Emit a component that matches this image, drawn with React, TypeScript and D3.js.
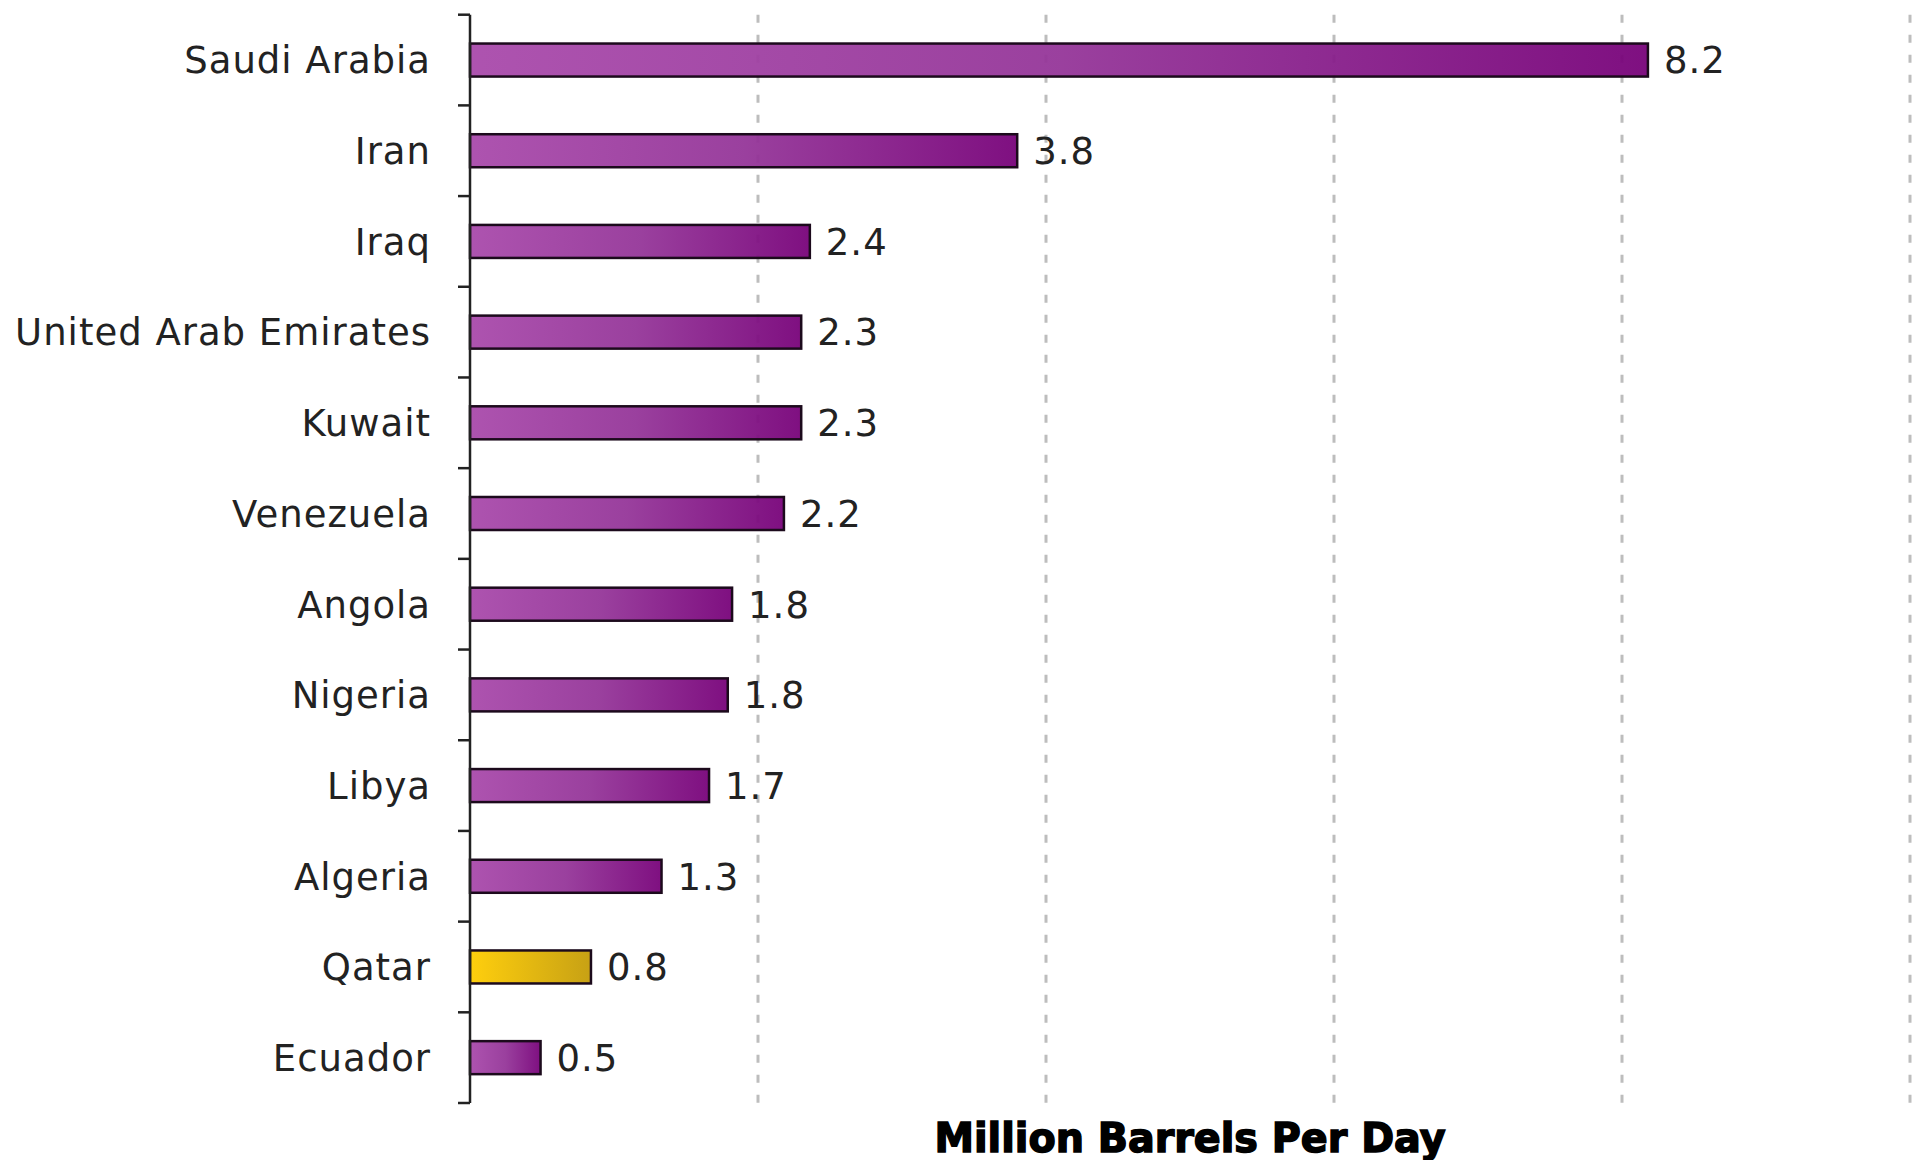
import React from "react";
import * as d3 from "d3";

const countries = [
  "Saudi Arabia",
  "Iran",
  "Iraq",
  "United Arab Emirates",
  "Kuwait",
  "Venezuela",
  "Angola",
  "Nigeria",
  "Libya",
  "Algeria",
  "Qatar",
  "Ecuador",
];
const production = [8.18, 3.8, 2.36, 2.3, 2.3, 2.18, 1.82, 1.79, 1.66, 1.33, 0.84, 0.49];
const highlighted = ["Qatar"];
const gridTicks = [2, 4, 6, 8, 10];
const axisTitle = "Million Barrels Per Day";

const W = 1916;
const H = 1160;
const left = 470;
const right = 1910;
const top = 14.7;
const bottom = 1103;

export default function App() {
  const x = d3.scaleLinear().domain([0, 10]).range([left, right]);
  const pIn = 0.636;
  const y = d3
    .scaleBand<string>()
    .domain(countries)
    .range([top, bottom])
    .paddingInner(pIn)
    .paddingOuter(pIn / 2);
  const step = y.step();
  const bw = y.bandwidth();
  const boundaries = countries.map((c) => (y(c) as number) - (step * pIn) / 2);
  boundaries.push(bottom);
  const fmt = d3.format(".1f");

  return (
    <svg
      width={W}
      height={H}
      style={{ position: "absolute", left: 0, top: 0, background: "#fff" }}
      fontFamily="'DejaVu Sans', Verdana, sans-serif"
    >
      <defs>
        <linearGradient id="gPurple" x1="0" y1="0" x2="1" y2="0">
          <stop offset="0" stopColor="#a94aab" />
          <stop offset="0.5" stopColor="#953699" />
          <stop offset="1" stopColor="#78037a" />
        </linearGradient>
        <linearGradient id="gGold" x1="0" y1="0" x2="1" y2="0">
          <stop offset="0" stopColor="#ffcc00" />
          <stop offset="1" stopColor="#c49c08" />
        </linearGradient>
      </defs>

      {gridTicks.map((t) => (
        <line
          key={t}
          x1={x(t)}
          x2={x(t)}
          y1={top}
          y2={bottom}
          stroke="#bdbdbd"
          strokeWidth={3}
          strokeDasharray="8 12"
        />
      ))}

      {countries.map((c, i) => {
        const yy = y(c) as number;
        const isHi = highlighted.includes(c);
        return (
          <g key={c}>
            <rect
              x={x(0)}
              y={yy}
              width={x(production[i]) - x(0)}
              height={bw}
              fill={isHi ? "url(#gGold)" : "url(#gPurple)"}
              fillOpacity={0.95}
              stroke="#1c0a1c"
              strokeWidth={2.5}
            />
            <text
              x={x(production[i]) + 16}
              y={yy + bw / 2}
              dy="0.36em"
              fontSize={37}
              letterSpacing={1}
              fill="#222"
            >
              {fmt(production[i])}
            </text>
            <text
              x={left - 39}
              y={yy + bw / 2}
              dy="0.36em"
              textAnchor="end"
              fontSize={37}
              letterSpacing={1}
              fill="#222"
            >
              {c}
            </text>
          </g>
        );
      })}

      <line x1={left} x2={left} y1={top} y2={bottom} stroke="#222" strokeWidth={2.5} />
      {boundaries.map((b, i) => (
        <line key={i} x1={left - 12} x2={left} y1={b} y2={b} stroke="#222" strokeWidth={2.5} />
      ))}

      <text
        x={(left + right) / 2}
        y={1152}
        textAnchor="middle"
        fontSize={40}
        fontWeight="bold"
        fill="#000"
        stroke="#000"
        strokeWidth={1.5}
        textLength={511}
        lengthAdjust="spacingAndGlyphs"
      >
        {axisTitle}
      </text>
    </svg>
  );
}
